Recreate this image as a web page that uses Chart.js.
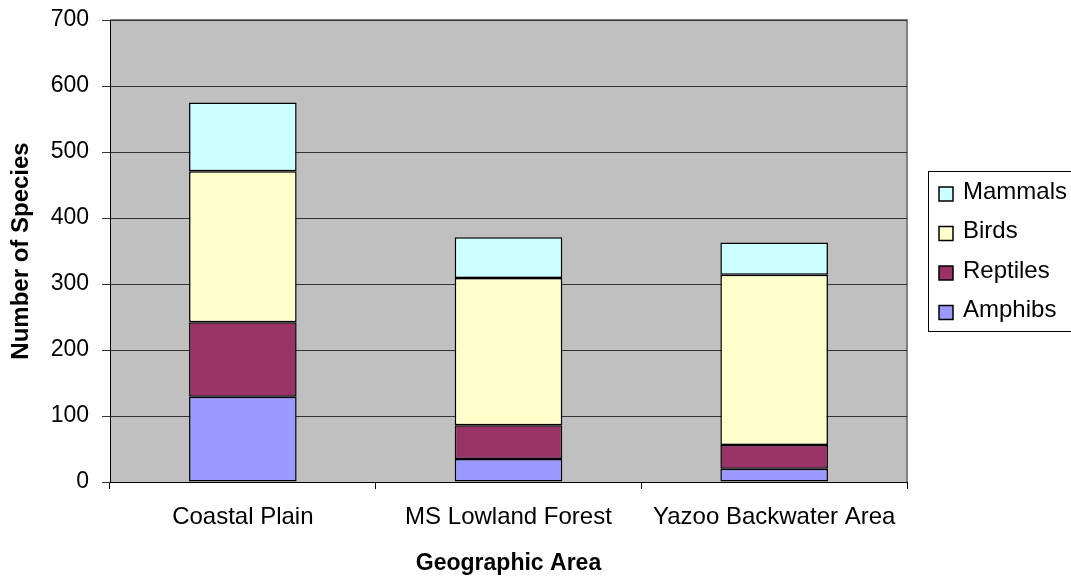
<!DOCTYPE html>
<html>
<head>
<meta charset="utf-8">
<script src="https://cdn.jsdelivr.net/npm/chart.js@4"></script>
<style>
  html, body { margin: 0; padding: 0; background: #fff; }
  #wrap { width: 1071px; height: 580px; position: relative; }
</style>
</head>
<body>
<div id="wrap"><canvas id="mainChart"></canvas></div>
<script>
// Data
const areas = ['Coastal Plain', 'MS Lowland Forest', 'Yazoo Backwater Area'];
const amphibs = [129, 35, 20];
const reptiles = [113, 51, 36];
const birds = [229, 223, 258];
const mammals = [104, 62, 49];
const yTicks = [0, 100, 200, 300, 400, 500, 600, 700];

const FONT = '"Liberation Sans", Arial, sans-serif';

// plot background + border
const plotBg = {
    id: 'plotBg',
    beforeDraw(chart) {
        const a = chart.chartArea;
        const c = chart.ctx;
        c.save();
        c.fillStyle = '#c0c0c0';
        c.fillRect(a.left, a.top, a.right - a.left, a.bottom - a.top);
        c.strokeStyle = '#808080';
        c.lineWidth = 2;
        c.beginPath();
        c.moveTo(a.left, a.top);
        c.lineTo(a.right, a.top);
        c.lineTo(a.right, a.bottom);
        c.stroke();
        c.restore();
    }
};

// boxed legend on the right, top item = last dataset
const boxLegend = {
    id: 'boxLegend',
    afterDraw(chart) {
        const c = chart.ctx;
        const sets = chart.data.datasets.slice().reverse();
        const left = 928, top = 171, h = 160;
        c.save();
        c.fillStyle = '#fff';
        c.fillRect(left, top, 1071 - left + 5, h);
        c.strokeStyle = '#000';
        c.lineWidth = 1;
        c.strokeRect(left + 0.5, top + 0.5, 1071 - left + 5, h);
        c.font = '24px ' + FONT;
        c.textBaseline = 'alphabetic';
        sets.forEach((ds, i) => {
            const y = 194 + i * 39.5;
            c.fillStyle = ds.backgroundColor;
            c.fillRect(939, y - 7, 14, 14);
            c.strokeStyle = '#000';
            c.lineWidth = 1.5;
            c.strokeRect(939, y - 7, 14, 14);
            c.fillStyle = '#000';
            c.fillText(ds.label, 963, y + 4.5);
        });
        c.restore();
    }
};

const barCommon = {
    borderColor: '#000',
    borderWidth: 1.5,
    borderSkipped: false,
    categoryPercentage: 1.0,
    barPercentage: 0.405
};

const ctx = document.getElementById('mainChart').getContext('2d');
const chart = new Chart(ctx, {
    type: 'bar',
    data: {
        labels: areas,
        datasets: [
            { label: 'Amphibs', data: amphibs, backgroundColor: '#9999ff', ...barCommon },
            { label: 'Reptiles', data: reptiles, backgroundColor: '#993366', ...barCommon },
            { label: 'Birds', data: birds, backgroundColor: '#ffffcc', ...barCommon },
            { label: 'Mammals', data: mammals, backgroundColor: '#ccffff', ...barCommon }
        ]
    },
    options: {
        responsive: true,
        maintainAspectRatio: false,
        animation: false,
        layout: { padding: { top: 20, right: 164, left: 0, bottom: 0 } },
        plugins: {
            legend: { display: false },
            tooltip: { enabled: false }
        },
        scales: {
            x: {
                stacked: true,
                grid: {
                    offset: true,
                    drawOnChartArea: false,
                    drawTicks: true,
                    tickLength: 7,
                    color: '#000'
                },
                border: { color: '#000', width: 1 },
                ticks: { color: '#000', font: { family: FONT, size: 24 }, padding: 14, maxRotation: 0 },
                title: {
                    display: true,
                    text: 'Geographic Area',
                    color: '#000',
                    font: { family: FONT, size: 23, weight: 'bold' },
                    padding: { top: 0, bottom: 3 }
                },
                afterFit(scale) { scale.height = 98; }
            },
            y: {
                stacked: true,
                min: 0,
                max: 700,
                afterBuildTicks(scale) { scale.ticks = yTicks.map(v => ({ value: v })); },
                grid: { color: '#333', lineWidth: 1, tickLength: 8 },
                border: { color: '#000', width: 1 },
                ticks: { color: '#000', font: { family: FONT, size: 23 }, padding: 13 },
                title: {
                    display: true,
                    text: 'Number of Species',
                    color: '#000',
                    font: { family: FONT, size: 24, weight: 'bold' },
                    padding: { top: 7, bottom: 0 }
                },
                afterFit(scale) {
                    scale.width = 110;
                    scale.paddingTop = 0;
                    scale.paddingBottom = 0;
                }
            }
        }
    },
    plugins: [plotBg, boxLegend]
});
</script>
</body>
</html>
